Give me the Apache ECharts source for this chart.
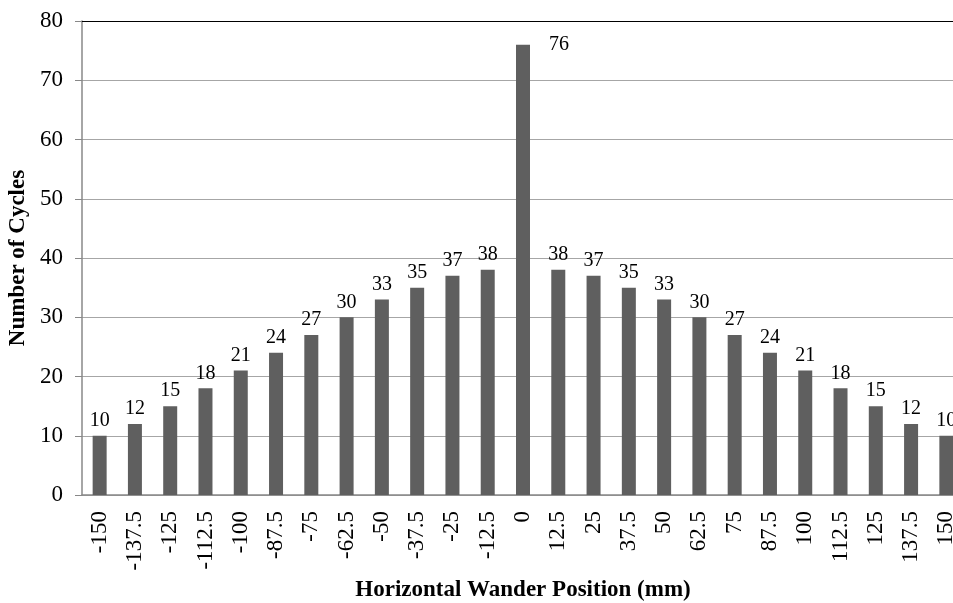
<!DOCTYPE html>
<html>
<head>
<meta charset="utf-8">
<script src="https://cdn.jsdelivr.net/npm/echarts@6/dist/echarts.min.js"></script>
<style>
  html, body { margin: 0; padding: 0; background: #fff; }
  #chart { width: 953px; height: 603px; }
</style>
</head>
<body>
<div id="chart"></div>
<script>
// Wander positions across the lane (mm) and cycle counts at each position
const positions = ['-150', '-137.5', '-125', '-112.5', '-100', '-87.5', '-75', '-62.5', '-50', '-37.5', '-25', '-12.5',
  '0', '12.5', '25', '37.5', '50', '62.5', '75', '87.5', '100', '112.5', '125', '137.5', '150'];
const cycles = [10, 12, 15, 18, 21, 24, 27, 30, 33, 35, 37, 38, 76, 38, 37, 35, 33, 30, 27, 24, 21, 18, 15, 12, 10];

const yMin = 0, yMax = 80, yStep = 10;
const serif = 'Liberation Serif, Times New Roman, serif';

const chart = echarts.init(document.getElementById('chart'));

// The tallest bar carries its label beside the top instead of above it
const peak = Math.max(...cycles);
const barData = cycles.map(v => v === peak ? {
  value: v,
  label: { position: ['100%', 0], align: 'left', verticalAlign: 'middle', offset: [19, 0] }
} : v);

chart.setOption({
  animation: false,
  backgroundColor: '#ffffff',
  // plot runs slightly past the right edge of the canvas
  grid: { left: 82, top: 21, right: -11, bottom: 108, containLabel: false, outerBoundsMode: 'none' },
  xAxis: [{
    type: 'category',
    data: positions,
    name: 'Horizontal Wander Position (mm)',
    nameLocation: 'middle',
    nameGap: 84,
    nameTextStyle: { fontFamily: serif, fontWeight: 'bold', fontSize: 23, color: '#000' },
    axisLine: { lineStyle: { color: '#888888', width: 1.5 } },
    axisTick: { show: false },
    axisLabel: { rotate: 90, margin: 16, fontFamily: serif, fontSize: 23, color: '#000', interval: 0 }
  }, {
    // top frame line of the plot
    type: 'category',
    data: positions,
    position: 'top',
    axisLine: { lineStyle: { color: '#000000', width: 1.2 } },
    axisTick: { show: false },
    axisLabel: { show: false }
  }],
  yAxis: {
    type: 'value',
    min: yMin, max: yMax, interval: yStep,
    name: 'Number of Cycles',
    nameLocation: 'middle',
    nameGap: 52,
    nameTextStyle: { fontFamily: serif, fontWeight: 'bold', fontSize: 23, color: '#000' },
    axisLine: { show: true, lineStyle: { color: '#888888', width: 1.5 } },
    axisTick: { show: true, length: 7, lineStyle: { color: '#888888' } },
    axisLabel: { margin: 19, fontFamily: serif, fontSize: 23, color: '#000' },
    splitLine: { lineStyle: { color: '#a6a6a6', width: 1 } }
  },
  series: [{
    type: 'bar',
    xAxisIndex: 0,
    data: barData,
    barWidth: 14,
    itemStyle: { color: '#5f5f5f' },
    label: { show: true, position: 'top', distance: 5, fontFamily: serif, fontSize: 20, color: '#000' }
  }]
});
</script>
</body>
</html>
